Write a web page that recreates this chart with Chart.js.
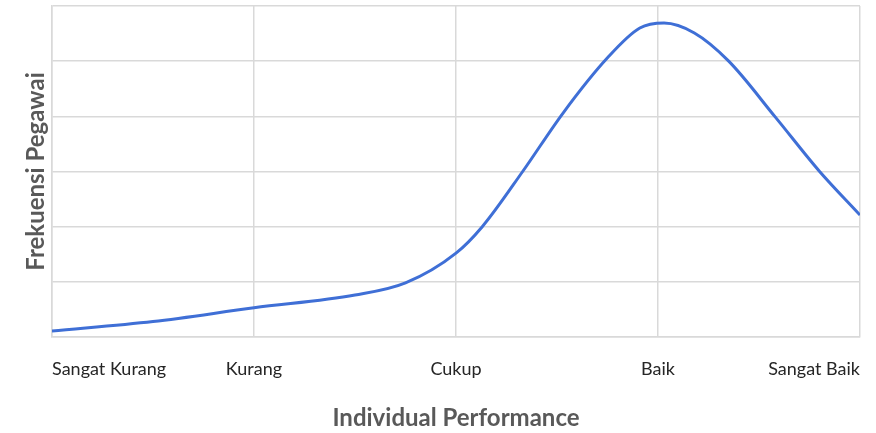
<!DOCTYPE html>
<html>
<head>
<meta charset="utf-8">
<script src="https://cdn.jsdelivr.net/npm/chart.js@4/dist/chart.umd.min.js"></script>
<style>
  html, body { margin: 0; padding: 0; background: #ffffff; }
  #wrap { width: 876px; height: 433px; position: relative; }
</style>
</head>
<body>
<div id="wrap"><canvas id="c" width="876" height="433"></canvas></div>
<script>
// Category names on the x axis (positions 0..4)
const categories = ['Sangat Kurang', 'Kurang', 'Cukup', 'Baik', 'Sangat Baik'];
// Curve samples: x position (category units) and frequency (gridline units)
const curveX = [0, 0.5, 1, 1.5, 1.75, 2, 2.13, 2.33, 2.53, 2.75, 2.91, 3.03, 3.18, 3.35, 3.58, 3.8, 4];
const curveY = [0.11, 0.28, 0.53, 0.76, 0.98, 1.52, 2.0, 3.0, 4.06, 5.06, 5.6, 5.69, 5.51, 5.0, 3.99, 3.0, 2.21];
const xTitle = 'Individual Performance';
const yTitle = 'Frekuensi Pegawai';

const points = curveX.map((x, i) => ({ x: x, y: curveY[i] }));
const FONT = 'Lato, "Open Sans", sans-serif';

new Chart(document.getElementById('c'), {
  type: 'line',
  data: {
    datasets: [{
      data: points,
      borderColor: '#3f6fd6',
      borderWidth: 3,
      pointRadius: 0,
      cubicInterpolationMode: 'monotone',
      fill: false
    }]
  },
  options: {
    responsive: false,
    animation: false,
    layout: { padding: { top: 6, right: 16, left: 0, bottom: 0 } },
    plugins: { legend: { display: false }, tooltip: { enabled: false } },
    scales: {
      x: {
        type: 'linear',
        min: 0,
        max: 4,
        afterFit: s => { s.height = 96; s.paddingLeft = 0; s.paddingRight = 0; },
        grid: { color: '#d9d9d9', lineWidth: 1.5, drawTicks: false },
        border: { color: '#d9d9d9', width: 1.5 },
        ticks: {
          stepSize: 1,
          align: 'inner',
          padding: 21,
          maxRotation: 0,
          color: '#262626',
          font: { family: FONT, size: 18 },
          callback: v => categories[v]
        },
        title: {
          display: true,
          text: xTitle,
          color: '#595959',
          font: { family: FONT, size: 24, weight: 'bold' },
          padding: { top: 0, bottom: 0 }
        }
      },
      y: {
        min: 0,
        max: 6,
        afterFit: s => { s.width = 52; },
        grid: { color: '#d9d9d9', lineWidth: 1.5, drawTicks: false },
        border: { color: '#d9d9d9', width: 1.5 },
        ticks: { display: false, stepSize: 1 },
        title: {
          display: true,
          text: yTitle,
          color: '#595959',
          font: { family: FONT, size: 24, weight: 'bold' },
          padding: { top: 22, bottom: 0 }
        }
      }
    }
  }
});
</script>
</body>
</html>
